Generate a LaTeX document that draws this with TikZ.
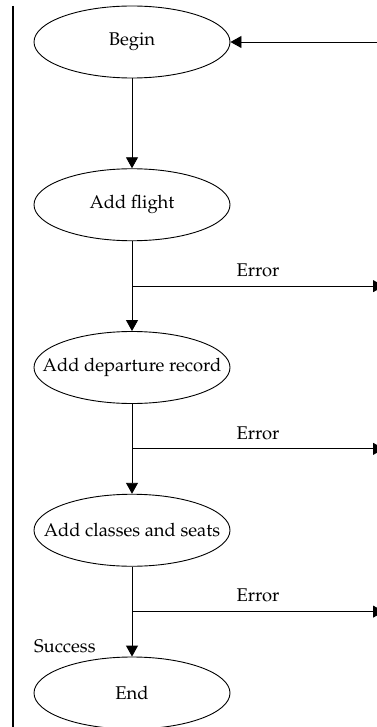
\documentclass[tikz,border=0pt]{standalone}
\usepackage[T1]{fontenc}
\usepackage{mathpazo}
\usetikzlibrary{positioning,arrows.meta,shapes.geometric,calc}

\begin{document}
\begin{tikzpicture}[x=1pt,y=-1pt,node distance=162.75pt,->,>={Triangle[length=11pt,width=12pt]},
		line width=0.9pt,
		every node/.style={font=\fontsize{18.4}{21}\selectfont},
		stage/.style={ellipse,draw,line width=0.9pt,minimum width=196pt,minimum height=72pt,inner sep=0pt},
		tag/.style={inner sep=0pt}
		]
		\useasboundingbox (0,0) rectangle (376,727);
		\node[stage] (begin) at (132,42) {Begin};
		\node[stage] (flight) [below of=begin] {Add flight};
		\node[stage] (depart) [below of=flight] {\makebox[0pt]{Add departure record}};
		\node[stage] (classes) [below of=depart] {\makebox[0pt]{Add classes and seats}};
		\node[stage] (end) [below of=classes] {End};
		\node[tag] (success) [above left=3.7pt and 36pt of end.north] {Success};
		
		\coordinate (bartop) at (13,6);
		\coordinate (barbottom) at (13,730);
		\draw[-,line width=2.4pt] (bartop) -- (barbottom);
		
		\coordinate (entry) at (380,42);
		\draw (entry) -- (begin);
		\draw (begin) -- (flight);
		\draw (flight) -- (depart);
		\draw (depart) -- (classes);
		\draw (classes) -- (end);
		
		\foreach \a/\b/\n in {flight/depart/1,depart/classes/2,classes/end/3} {
			\coordinate (fork\n) at ($(\a.south)!0.5!(\b.north)$);
			\coordinate (exit\n) at ($(fork\n)+(252,0)$);
			\draw (fork\n) -- node[tag,above=9pt]{Error} (exit\n);
		}
	\end{tikzpicture}
\end{document}
